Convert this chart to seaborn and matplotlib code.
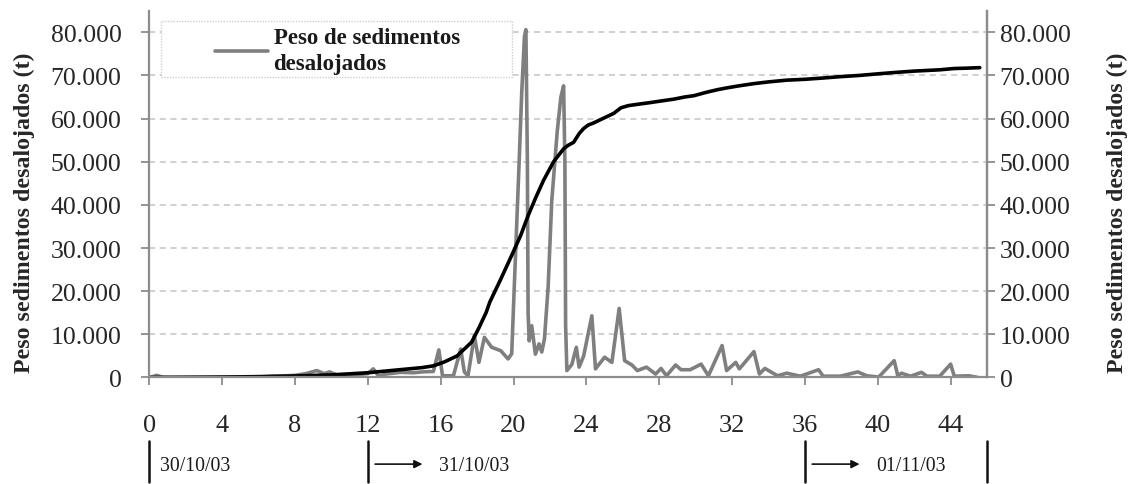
import matplotlib
matplotlib.use("Agg")
import matplotlib.pyplot as plt
import matplotlib.patches as mpatches
import matplotlib.lines as mlines
from matplotlib.ticker import FuncFormatter
import matplotlib.transforms as mtransforms
import seaborn as sns
import pandas as pd

# ---------------- data ----------------
hours_sed = [0, 0.2, 0.4, 0.7, 1.0, 3.0, 6.0, 6.8, 7.5, 8.0, 8.6, 9.2, 9.6, 9.9, 10.3, 11.0,
             12.0, 12.3, 12.6, 13.0, 13.8, 14.5, 15.0, 15.6, 15.9, 16.1, 16.7, 17.1, 17.3, 17.5,
             17.85, 18.1, 18.4, 18.8, 19.3, 19.7, 19.9, 20.05, 20.3, 20.45, 20.6, 20.68, 20.76,
             20.8, 20.86, 21.0, 21.2, 21.4, 21.55, 21.7, 21.9, 22.1, 22.4, 22.6, 22.75, 22.82,
             22.86, 22.93, 23.2, 23.45, 23.6, 23.85, 24.3, 24.5, 25.0, 25.4, 25.8, 26.1, 26.5,
             26.8, 27.3, 27.8, 28.1, 28.4, 28.9, 29.2, 29.7, 30.3, 30.7, 31.45, 31.7, 32.2, 32.4,
             33.2, 33.5, 33.8, 34.5, 35.0, 35.75, 36.75, 37.0, 37.95, 38.9, 39.4, 40.05, 40.9,
             41.1, 41.3, 41.8, 42.4, 42.7, 43.4, 44.0, 44.2, 45.0, 45.5]
sediment = [0, 200, 500, 100, 0, 0, 100, 300, 400, 500, 900, 1600, 900, 1300, 600, 500,
            900, 2000, 300, 800, 1200, 1100, 1300, 1400, 6400, 400, 400, 6600, 1300, 400,
            9700, 3500, 9300, 7000, 6200, 4300, 5500, 22000, 49000, 66000, 79000, 80600, 50000,
            15000, 8500, 12000, 5400, 7800, 5900, 9000, 21000, 41000, 57000, 65000, 67600, 50000,
            12000, 1600, 3000, 7000, 2400, 5000, 14300, 2000, 4700, 3500, 16000, 3900, 2900,
            1600, 2400, 800, 2100, 400, 2900, 1800, 1800, 3100, 400, 7400, 1600, 3500, 2000,
            6000, 800, 2100, 400, 1000, 300, 1800, 300, 300, 1300, 400, 100, 3900,
            400, 1000, 300, 1200, 300, 300, 3100, 300, 400, 0]

hours_cum = [0, 2, 4, 6, 8, 10, 12, 13, 14, 15, 15.6, 16.2, 16.9, 17.7, 18.1, 18.5, 18.7,
             19.3, 19.9, 20.4, 20.8, 21.2, 21.65, 22.2, 22.75, 23.0, 23.3, 23.6, 23.85, 24.1,
             24.4, 25.1, 25.5, 25.9, 26.3, 26.8, 27.5, 28.3, 28.8, 29.4, 29.9, 30.6, 31.2,
             31.7, 32.4, 33.2, 34.0, 35.0, 36.0, 37.0, 37.9, 39.0, 40.1, 41.0, 42.0, 43.4,
             44.2, 45.0, 45.6]
cumulative = [0, 50, 100, 200, 350, 600, 1100, 1500, 1900, 2300, 2700, 3600, 5000, 8200,
              11500, 15100, 17500, 22800, 28300, 33000, 37500, 41500, 45700, 50000, 53000,
              53800, 54500, 56500, 57700, 58500, 59000, 60400, 61200, 62500, 63000, 63300,
              63700, 64200, 64500, 65000, 65300, 66100, 66700, 67100, 67600, 68100, 68500,
              68900, 69100, 69400, 69700, 70000, 70400, 70700, 71000, 71300, 71600, 71700, 71800]

x_ticks = [0, 4, 8, 12, 16, 20, 24, 28, 32, 36, 40, 44]
y_ticks = [0, 10000, 20000, 30000, 40000, 50000, 60000, 70000, 80000]
y_label = "Peso sedimentos desalojados (t)"
legend_label = "Peso de sedimentos\ndesalojados"
day_marks = [0, 12, 36, 46]
day_labels = ["30/10/03", "31/10/03", "01/11/03"]

df_sed = pd.DataFrame({"hora": hours_sed, "peso": sediment})
df_cum = pd.DataFrame({"hora": hours_cum, "peso": cumulative})

# ---------------- style ----------------
sns.set_theme(style="white")
plt.rcParams["font.family"] = ["Liberation Serif", "DejaVu Serif"]
spine_col = "#8c8c8c"

fig = plt.figure(figsize=(11.3, 4.85), dpi=100)
ax = fig.add_axes([0.1321, 0.2196, 0.7414, 0.7563])

sns.lineplot(data=df_sed, x="hora", y="peso", ax=ax, color="#7f7f7f", lw=2.6,
             label=legend_label, legend=False)
sns.lineplot(data=df_cum, x="hora", y="peso", ax=ax, color="#000000", lw=2.6, legend=False)

ax.set_xlim(0, 46)
ax.set_ylim(0, 85000)
ax.set_xticks(x_ticks)
ax.set_yticks(y_ticks)
fmt = FuncFormatter(lambda v, p: f"{int(v):,}".replace(",", "."))
ax.yaxis.set_major_formatter(fmt)

for yv in y_ticks[1:]:
    ax.axhline(yv, color="#c4c4c4", lw=1.1, ls=(0, (4, 3)), zorder=0)

ax.spines["top"].set_visible(False)
for s in ["left", "right", "bottom"]:
    ax.spines[s].set_color(spine_col)
    ax.spines[s].set_linewidth(1.6)

ax.set_xlabel("")
ax.set_ylabel(y_label, fontsize=17.2, fontweight="bold", color="#262626")
ax.yaxis.set_label_coords(-0.1365, 0.452)
ax.tick_params(axis="y", left=True, length=6, width=1.3, color=spine_col, pad=14,
               labelsize=18.5, labelcolor="#262626")
ax.tick_params(axis="x", bottom=True, length=6, width=1.3, color=spine_col, pad=20,
               labelsize=19, labelcolor="#262626")

ax2 = ax.twinx()
ax2.set_ylim(ax.get_ylim())
ax2.set_yticks(y_ticks)
ax2.yaxis.set_major_formatter(fmt)
for s in ["top", "left", "bottom"]:
    ax2.spines[s].set_visible(False)
ax2.spines["right"].set_color(spine_col)
ax2.spines["right"].set_linewidth(1.6)
ax2.tick_params(axis="y", right=True, length=6, width=1.3, color=spine_col, pad=3,
                labelsize=18.5, labelcolor="#262626")
ax2.set_ylabel(y_label, fontsize=17.2, fontweight="bold", color="#262626")
ax2.yaxis.set_label_coords(1.143, 0.452)
ax2.grid(False)

# legend box
rect = mpatches.Rectangle((0.014, 0.819), 0.419, 0.153, transform=ax.transAxes,
                          facecolor="white", edgecolor="#cfcfcf", lw=1.0, ls=(0, (1, 1)),
                          zorder=5)
ax.add_patch(rect)
h, l = ax.get_legend_handles_labels()
leg = ax.legend(h[:1], l[:1], loc="center", bbox_to_anchor=(0.2245, 0.891), frameon=False,
                prop={"family": "Liberation Serif", "weight": "bold", "size": 16.5},
                handlelength=2.3, handletextpad=0.25, borderpad=0.1, labelspacing=0.1)
leg.set_zorder(6)
for t in leg.get_texts():
    t.set_color("#1a1a1a")
    t.set_linespacing(1.3)

# date annotations below the axis
trans = mtransforms.blended_transform_factory(ax.transData, fig.transFigure)
for xm in day_marks:
    ax.add_line(mlines.Line2D([xm, xm], [0.004, 0.088], transform=trans, color="#111111",
                              lw=1.8, clip_on=False))
ax.text(0.6, 0.039, day_labels[0], transform=trans, fontsize=14.2, va="center", ha="left",
        color="#1a1a1a")
for xs, lab in [(12, day_labels[1]), (36, day_labels[2])]:
    ax.annotate("", xy=(xs + 3.0, 0.041), xytext=(xs + 0.4, 0.041), xycoords=trans,
                textcoords=trans, arrowprops=dict(arrowstyle="-|>", color="#111111", lw=1.2,
                                                  mutation_scale=12, shrinkA=0, shrinkB=0))
    ax.text(xs + 3.9, 0.039, lab, transform=trans, fontsize=14.2, va="center", ha="left",
            color="#1a1a1a")

fig.savefig("out.png", dpi=100)
